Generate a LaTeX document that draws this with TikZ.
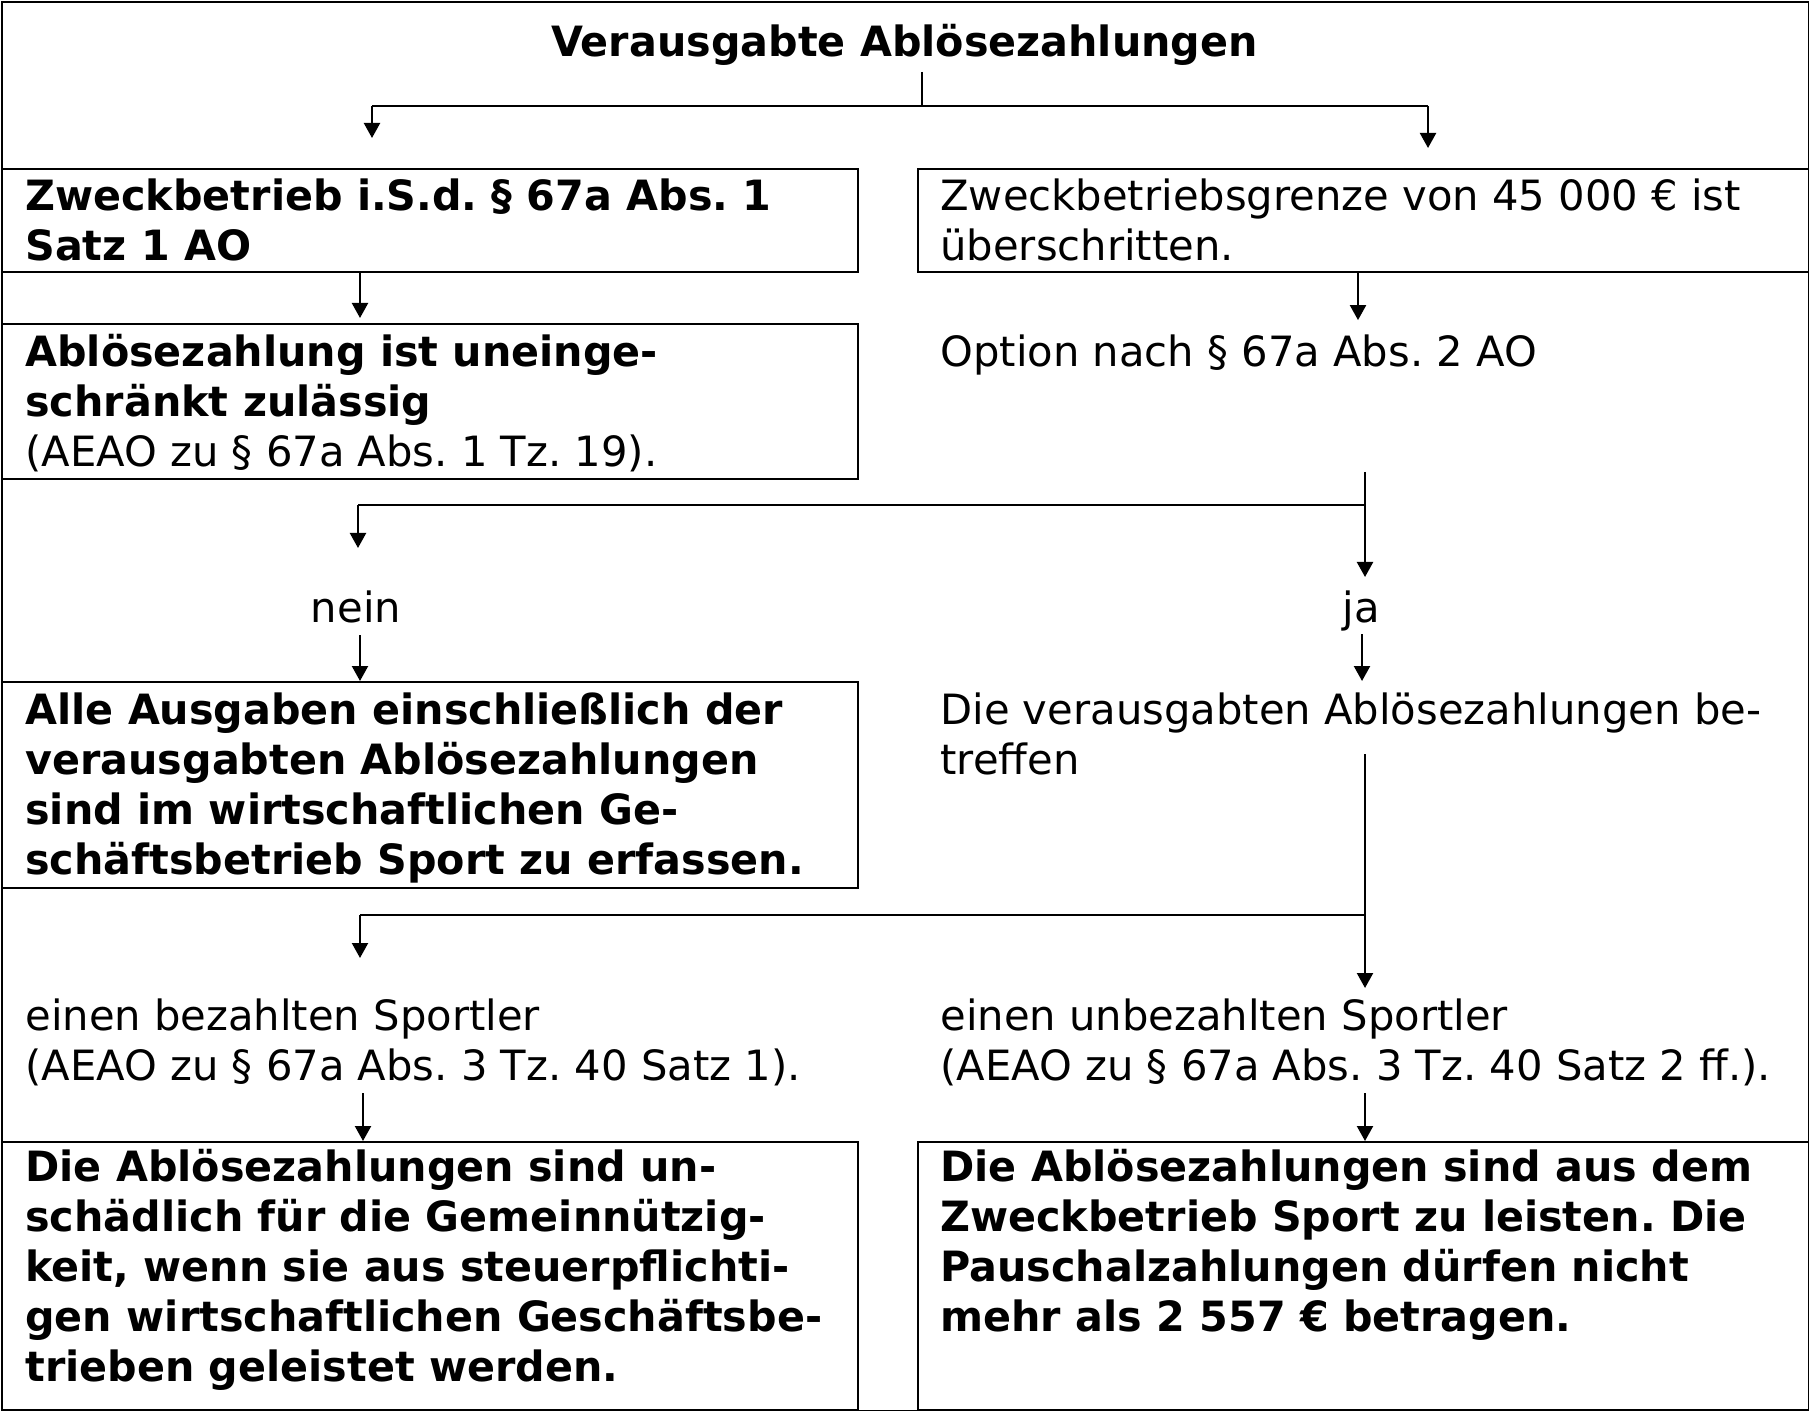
\documentclass[tikz,border=0pt]{standalone}
\usepackage{fontspec}
\setmainfont{DejaVu Sans}[BoldFeatures={FakeStretch=0.99}]
\usetikzlibrary{arrows.meta,calc}
\frenchspacing
\newcommand{\ml}[1]{\begin{tabular}[t]{@{}l@{}}#1\end{tabular}}
\tikzset{
  ln/.style={line width=1.1pt},
  arr/.style={line width=1.1pt,-{Triangle[width=8pt,length=7.5pt]}},
  box/.style={draw,line width=1.05pt,rectangle,inner sep=0pt,anchor=north west},
  txt/.style={inner sep=0pt,anchor=base west,font=\fontsize{20.85}{25}\selectfont\frenchspacing},
  ctxt/.style={inner sep=0pt,anchor=base,font=\fontsize{20.85}{25}\selectfont\frenchspacing},
}
\begin{document}
\begin{tikzpicture}[x=0.5pt,y=-0.5pt]
\useasboundingbox (0,0) rectangle (1809,1411);
\node[box,minimum width=903.5pt,minimum height=704.5pt] (frame) at (1,1) {};
% title
\node[ctxt] (title) at (904.5,57) {\textbf{Verausgabte Ablösezahlungen}};
% boxes
\node[box,minimum width=428pt,minimum height=51.5pt] (A) at (1,168) {};
\node[box,minimum width=445.5pt,minimum height=51.5pt] (B) at (917,168) {};
\node[box,minimum width=428pt,minimum height=77.5pt] (C) at (1,323) {};
\node[box,minimum width=428pt,minimum height=103pt] (E) at (1,681) {};
\node[box,minimum width=428pt,minimum height=134pt] (I) at (1,1141) {};
\node[box,minimum width=445.5pt,minimum height=134pt] (J) at (917,1141) {};
% texts
\node[txt] (tA) at (25,211) {\ml{\textbf{Zweckbetrieb i.S.d. § 67a Abs. 1}\\\textbf{Satz 1 AO}}};
\node[txt] (tB) at (940,211) {\ml{Zweckbetriebsgrenze von 45 000 € ist\\überschritten.}};
\node[txt] (tC) at (25,367) {\ml{\textbf{Ablösezahlung ist uneinge-}\\\textbf{schränkt zulässig}\\(AEAO zu § 67a Abs. 1 Tz. 19).}};
\node[txt] (tD) at (940,367) {Option nach § 67a Abs. 2 AO};
\node[ctxt] (nein) at (356,622) {nein};
\node[ctxt] (ja) at (1361,622) {ja};
\node[txt] (tE) at (25,724) {\ml{\textbf{Alle Ausgaben einschließlich der}\\\textbf{verausgabten Ablösezahlungen}\\\textbf{sind im wirtschaftlichen Ge-}\\\textbf{schäftsbetrieb Sport zu erfassen.}}};
\node[txt] (tF) at (940,724) {\ml{Die verausgabten Ablösezahlungen be-\\treffen}};
\node[txt] (tG) at (25,1030) {\ml{einen bezahlten Sportler\\(AEAO zu § 67a Abs. 3 Tz. 40 Satz 1).}};
\node[txt] (tH) at (940,1030) {\ml{einen unbezahlten Sportler\\(AEAO zu § 67a Abs. 3 Tz. 40 Satz 2 ff.).}};
\node[txt] (tI) at (25,1181) {\ml{\textbf{Die Ablösezahlungen sind un-}\\\textbf{schädlich für die Gemeinnützig-}\\\textbf{keit, wenn sie aus steuerpflichti-}\\\textbf{gen wirtschaftlichen Geschäftsbe-}\\\textbf{trieben geleistet werden.}}};
\node[txt] (tJ) at (940,1181) {\ml{\textbf{Die Ablösezahlungen sind aus dem}\\\textbf{Zweckbetrieb Sport zu leisten. Die}\\\textbf{Pauschalzahlungen dürfen nicht}\\\textbf{mehr als 2 557 € betragen.}}};
% connector coordinates
\coordinate (c0) at (922,72);
\coordinate (c0m) at (922,106);
\coordinate (c0l) at (372,106);
\coordinate (c0r) at (1428,106);
\coordinate (c0le) at (372,138);
\coordinate (c0re) at (1428,148);
\draw[ln] (c0) -- (c0m);
\draw[ln] (c0l) -- (c0r);
\draw[arr] (c0l) -- (c0le);
\draw[arr] (c0r) -- (c0re);
% A -> C, B -> D
\draw[arr] ($(A.south west)+(359,0)$) -- ($(C.north west)+(359,-5)$);
\draw[arr] ($(B.south west)+(441,0)$) -- ($(B.south west)+(441,47)$);
% option split
\coordinate (d0) at (1365,472);
\coordinate (d0m) at (1365,505);
\coordinate (d0l) at (358,505);
\coordinate (d0le) at (358,548);
\coordinate (d0re) at (1365,577);
\draw[arr] (d0) -- (d0re);
\draw[ln] (d0m) -- (d0l);
\draw[arr] (d0l) -- (d0le);
% nein -> E, ja -> F
\draw[arr] ($(nein.base)+(4,13)$) -- ($(E.north west)+(359,0)$);
\draw[arr] ($(ja.base)+(1,12)$) -- ($(ja.base)+(1,59)$);
% betreffen split
\coordinate (e0) at (1365,754);
\coordinate (e0m) at (1365,915);
\coordinate (e0l) at (360,915);
\coordinate (e0le) at (360,958);
\coordinate (e0re) at (1365,988);
\draw[arr] (e0) -- (e0re);
\draw[ln] (e0m) -- (e0l);
\draw[arr] (e0l) -- (e0le);
% G -> I, H -> J
\coordinate (g0) at (363,1093);
\coordinate (h0) at (1365,1093);
\draw[arr] (g0) -- (g0 |- I.north);
\draw[arr] (h0) -- (h0 |- J.north);
\end{tikzpicture}
\end{document}
